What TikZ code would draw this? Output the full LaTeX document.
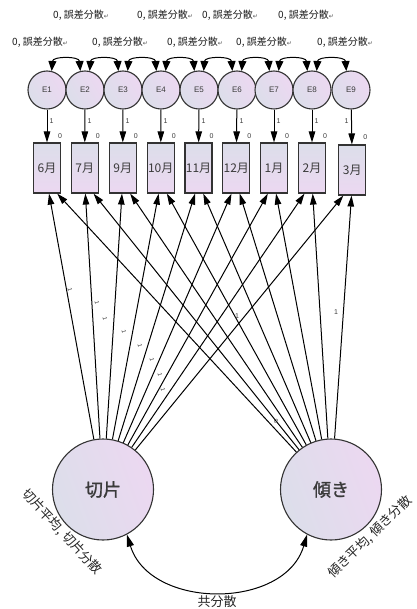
\documentclass[tikz,border=0pt]{standalone}
\usepackage{fontspec}
\newfontfamily\jp{Noto Sans CJK JP}
\newfontfamily\jpb{Noto Sans CJK JP}[FakeBold=1.2]
\newfontfamily\lat{Liberation Sans}
\newfontfamily\sym{DejaVu Sans}
\usetikzlibrary{arrows.meta,calc}
\definecolor{edge}{HTML}{333333}
\definecolor{txt}{HTML}{3A3A3A}
\definecolor{fillA}{HTML}{DCDEEA}
\definecolor{fillB}{HTML}{ECD8F1}
\newcommand{\evlabel}{0, 誤差分散{\sym\fontsize{6}{6}\selectfont\color{black!70}↵}}
\begin{document}
\begin{tikzpicture}[x=1pt,y=-1pt,
  errnode/.style={circle, draw=edge, line width=1.1pt, minimum size=38pt, inner sep=0pt,
    left color=fillA, right color=fillB, shading angle=120,
    font=\lat\fontsize{8}{9}\selectfont, text=txt},
  obsbox/.style={rectangle, draw=edge, line width=1.1pt, minimum width=27pt, minimum height=50pt,
    inner sep=0pt, top color=fillA, bottom color=fillB,
    font=\jp\fontsize{12}{13}\selectfont, text=txt},
  latent/.style={circle, draw=edge, line width=1.1pt, minimum size=101pt, inner sep=0pt,
    left color=fillA, right color=fillB, shading angle=110,
    font=\jpb\fontsize{18}{19}\selectfont, text=txt},
  regpath/.style={-{Triangle[length=11pt,width=6.5pt]}, line width=1pt},
  covarc/.style={{Triangle[length=10pt,width=8pt]}-{Triangle[length=10pt,width=8pt]}, line width=1pt},
  bigcov/.style={{Triangle[length=12pt,width=7pt]}-{Triangle[length=12pt,width=7pt]}, line width=1pt},
  errlab/.style={anchor=west, inner sep=0pt, font=\jp\fontsize{10}{11}\selectfont, text=black!90},
  small/.style={inner sep=0pt, font=\lat\fontsize{7}{8}\selectfont, text=txt},
  tiny/.style={inner sep=0pt, font=\lat\fontsize{6}{7}\selectfont, text=txt},
  sidelab/.style={inner sep=0pt, font=\jp\fontsize{13}{14}\selectfont, text=black!85}
]
\useasboundingbox (0,0) rectangle (416,609);

% error terms
\foreach \i/\x in {1/47,2/85,3/123,4/161,5/199,6/237,7/274,8/312,9/351}
  \node[errnode] (E\i) at (\x,90) {E\i};

% observed variables
\foreach \i/\x/\m in {1/47/6,2/84.7/7,3/122.7/9,4/160.7/10,5/198.5/11,6/236.3/12,7/274/1,8/312/2}
  \node[obsbox] (M\i) at (\x,168) {{\m}月};
\node[obsbox] (M9) at (352.3,170) {3月};

% error variance labels
\foreach \x in {53,137,202,278}
  \node[errlab] (ev\x) at (\x,15) {\evlabel};
\foreach \x in {12,92,167,236,317}
  \node[errlab] (ew\x) at (\x,42) {\evlabel};

% covariances between neighbouring errors
\foreach \i [evaluate=\i as \j using int(\i+1)] in {1,...,8}
  \draw[covarc] (E\i.76) .. controls +(1,-15) and +(-1,-15) .. (E\j.104);

% error -> observed
\foreach \i in {1,...,9}
  \draw[regpath] (E\i) -- (M\i);
\foreach \i/\x in {1/47,2/85,3/123,4/161,5/199,6/237,7/274,8/312}
  \node[small] (one\i) at (\x+4.5,121) {1};
\node[small] (one9) at (346.5,121) {1};
\foreach \i/\x in {1/60,2/97.7,3/135.7,4/173.7,5/211.5,6/249.3,7/287,8/325}
  \node[small] (zero\i) at (\x,136) {0};
\node[small] (zero9) at (365.3,137) {0};

% latent growth factors
\node[latent] (I) at (103,489.5) {切片};
\node[latent] (S) at (331,489.5) {傾き};

\foreach \i in {1,...,9} {
  \draw[regpath] (I) -- ($($(M\i.south)+(0,-11)$)!0.036!(I)$);
  \draw[regpath] (S) -- ($($(M\i.south)+(0,-11)$)!0.036!(S)$);
}

% loadings
\foreach \x/\y [count=\k] in {70/290,97/303,105/319,124/332,140/346,152/360,160/375,163/390}
  \node[tiny, rotate=-78] (ld\k) at (\x,\y) {1};
\node[small] (ls1) at (237,316) {1};
\node[small] (ls2) at (336,312) {1};
\node[tiny, rotate=-45] (ls0) at (276,421) {0};

% factor covariance
\draw[bigcov] (I.-62) .. controls (150,610) and (285,610) .. (S.242);
\node[sidelab] (cov) at (217,602) {共分散};

\node[sidelab, rotate=-47] (imv) at (62,532) {切片平均, 切片分散};
\node[sidelab, rotate=44] (smv) at (370,537) {傾き平均, 傾き分散};
\end{tikzpicture}
\end{document}
